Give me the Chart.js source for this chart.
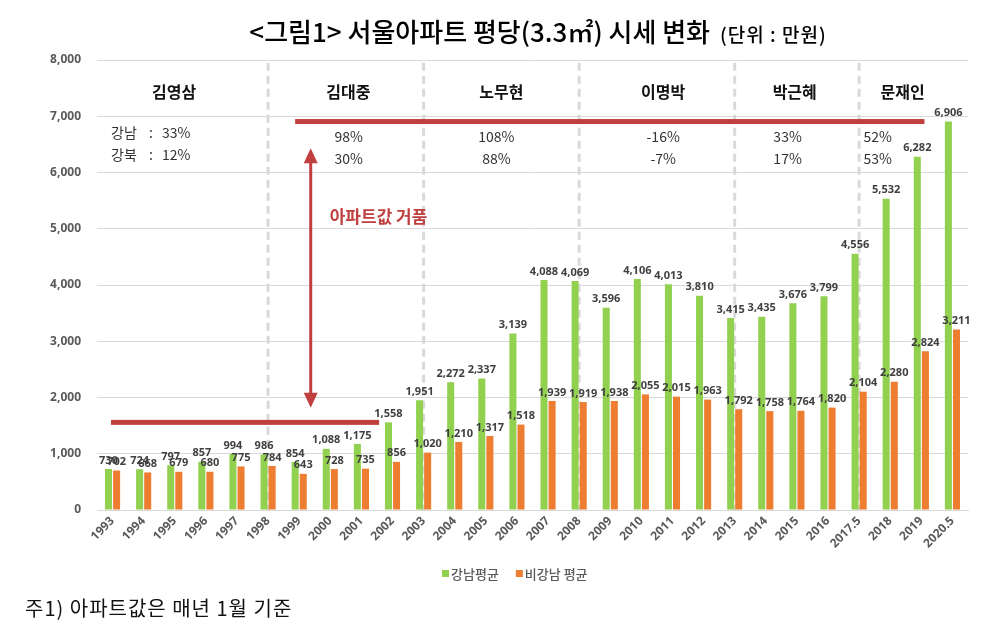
<!DOCTYPE html>
<html><head><meta charset="utf-8">
<script src="https://cdn.jsdelivr.net/npm/chart.js@4"></script>
<style>html,body{margin:0;padding:0;background:#fff;}#wrap{width:983px;height:639px;position:relative;}</style>
</head><body><div id="wrap"><canvas id="c" width="983" height="639"></canvas></div>
<script>
const years = ['1993','1994','1995','1996','1997','1998','1999','2000','2001','2002','2003','2004','2005','2006','2007','2008','2009','2010','2011','2012','2013','2014','2015','2016','2017.5','2018','2019','2020.5'];
const gangnam = [730,724,797,857,994,986,854,1088,1175,1558,1951,2272,2337,3139,4088,4069,3596,4106,4013,3810,3415,3435,3676,3799,4556,5532,6282,6906];
const nonGangnam = [702,668,679,680,775,784,643,728,735,856,1020,1210,1317,1518,1939,1919,1938,2055,2015,1963,1792,1758,1764,1820,2104,2280,2824,3211];
const yTicks = [0,1000,2000,3000,4000,5000,6000,7000,8000];
const presidents = ['김영삼','김대중','노무현','이명박','박근혜','문재인'];
const presidentPos = [1.98,7.58,12.5,17.7,21.93,25.4];
const eraBoundaries = ['1998','2003','2008','2013','2017.5'];
const rowGangnam = ['98%','108%','-16%','33%','52%'];
const rowGangbuk = ['30%','88%','-7%','17%','53%'];
const rowPos = [7.59,12.34,17.7,21.7,24.6];
const firstRow = ['강남','33%'];
const secondRow = ['강북','12%'];
const legendLabels = ['강남평균','비강남 평균'];
const titleMain = '<그림1> 서울아파트 평당(3.3㎡) 시세 변화';
const titleUnit = '(단위 : 만원)';
const footnote = '주1) 아파트값은 매년 1월 기준';
const bubbleLabel = '아파트값 거품';

const GREEN = '#92D050', ORANGE = '#ED7D31', RED = '#C0403F';
const KR = '"Noto Sans CJK KR", "Noto Sans", sans-serif';

const overlay = {
  id: 'overlay',
  beforeDraw(chart) {
    const ctx = chart.ctx;
    ctx.save(); ctx.fillStyle = '#fff'; ctx.fillRect(0,0,chart.width,chart.height); ctx.restore();
  },
  beforeDatasetsDraw(chart) {
    const {ctx, scales:{x,y}} = chart;
    ctx.save();
    ctx.strokeStyle = '#D9D9D9'; ctx.lineWidth = 3; ctx.setLineDash([8,5]);
    eraBoundaries.forEach(b => {
      const px = x.getPixelForValue(years.indexOf(b));
      ctx.beginPath(); ctx.moveTo(px, y.getPixelForValue(7950)); ctx.lineTo(px, y.getPixelForValue(0)); ctx.stroke();
    });
    ctx.restore();
  },
  afterDatasetsDraw(chart) {
    const {ctx, scales:{x,y}} = chart;
    ctx.save();
    ctx.font = 'bold 11px "Noto Sans", sans-serif';
    ctx.fillStyle = '#404040'; ctx.textAlign = 'center'; ctx.textBaseline = 'bottom';
    chart.data.datasets.forEach((ds, di) => {
      const meta = chart.getDatasetMeta(di);
      meta.data.forEach((bar, i) => {
        ctx.fillText(ds.data[i].toLocaleString('en-US'), bar.x, bar.y - 3);
      });
    });
    const topV = gangnam[gangnam.length-1], lowV = gangnam[years.indexOf('2002')];
    ctx.fillStyle = RED; ctx.strokeStyle = RED;
    const ty = y.getPixelForValue(topV), ly = y.getPixelForValue(lowV);
    ctx.fillRect(x.getPixelForValue(5.87), ty - 2.5, x.getPixelForValue(26.1) - x.getPixelForValue(5.87), 5);
    ctx.fillRect(x.getPixelForValue(-0.05), ly - 2.5, x.getPixelForValue(8.57) - x.getPixelForValue(-0.05), 5);
    const ax = x.getPixelForValue(6.37);
    const a1 = y.getPixelForValue(6430), a2 = y.getPixelForValue(1820);
    ctx.lineWidth = 3;
    ctx.beginPath(); ctx.moveTo(ax, a1 + 12); ctx.lineTo(ax, a2 - 12); ctx.stroke();
    ctx.beginPath(); ctx.moveTo(ax, a1); ctx.lineTo(ax - 7, a1 + 15); ctx.lineTo(ax + 7, a1 + 15); ctx.closePath(); ctx.fill();
    ctx.beginPath(); ctx.moveTo(ax, a2); ctx.lineTo(ax - 7, a2 - 15); ctx.lineTo(ax + 7, a2 - 15); ctx.closePath(); ctx.fill();
    ctx.font = 'bold 17px ' + KR; ctx.textAlign = 'left'; ctx.textBaseline = 'middle';
    ctx.fillText(bubbleLabel, ax + 19, y.getPixelForValue(5209));
    ctx.fillStyle = '#111'; ctx.textAlign = 'center';
    ctx.font = 'bold 16px ' + KR;
    presidents.forEach((p, i) => ctx.fillText(p, x.getPixelForValue(presidentPos[i]), y.getPixelForValue(7431)));
    ctx.font = '14px ' + KR; ctx.fillStyle = '#333';
    rowGangnam.forEach((t, i) => ctx.fillText(t, x.getPixelForValue(rowPos[i]), y.getPixelForValue(6631)));
    rowGangbuk.forEach((t, i) => ctx.fillText(t, x.getPixelForValue(rowPos[i]), y.getPixelForValue(6240)));
    ctx.textAlign = 'left';
    const lx = x.getPixelForValue(-0.05);
    [[firstRow, 6702],[secondRow, 6311]].forEach(([r, v]) => {
      const yy = y.getPixelForValue(v);
      ctx.fillText(r[0], lx, yy); ctx.fillText(':', lx + 38, yy); ctx.fillText(r[1], lx + 51, yy);
    });
    ctx.restore();
  },
  afterDraw(chart) {
    const ctx = chart.ctx;
    ctx.save();
    ctx.fillStyle = '#000'; ctx.textBaseline = 'alphabetic';
    const f1 = '500 26px ' + KR, f2 = '500 19px ' + KR;
    ctx.font = f1; const w1 = ctx.measureText(titleMain).width;
    ctx.font = f2; ctx.letterSpacing = '1px'; const w2 = ctx.measureText(titleUnit).width;
    ctx.letterSpacing = '0px';
    const tx = 538 - (w1 + 10 + w2) / 2;
    ctx.font = f1; ctx.fillText(titleMain, tx, 42);
    ctx.font = f2; ctx.letterSpacing = '1px'; ctx.fillText(titleUnit, tx + w1 + 10, 42);
    ctx.letterSpacing = '0px';
    ctx.font = '500 13px ' + KR; ctx.textBaseline = 'middle';
    let lx = 442; const ly = 574;
    [[GREEN, legendLabels[0]],[ORANGE, legendLabels[1]]].forEach(([c, t]) => {
      ctx.fillStyle = c; ctx.fillRect(lx, ly - 4, 7, 7);
      ctx.fillStyle = '#595959'; ctx.fillText(t, lx + 9, ly);
      lx += 9 + ctx.measureText(t).width + 17;
    });
    ctx.font = '20px ' + KR; ctx.fillStyle = '#111'; ctx.letterSpacing = '1px';
    ctx.fillText(footnote, 25, 608);
    ctx.restore();
  }
};

new Chart(document.getElementById('c'), {
  type: 'bar',
  data: {
    labels: years,
    datasets: [
      {label: legendLabels[0], data: gangnam, backgroundColor: GREEN, categoryPercentage: 0.52, barPercentage: 0.87},
      {label: legendLabels[1], data: nonGangnam, backgroundColor: ORANGE, categoryPercentage: 0.52, barPercentage: 0.87}
    ]
  },
  options: {
    responsive: false, animation: false, devicePixelRatio: 1,
    layout: {padding: {left: 0, right: 15, top: 60, bottom: 79}},
    plugins: {legend: {display: false}, title: {display: false}, tooltip: {enabled: false}},
    scales: {
      x: {
        grid: {display: false, drawTicks: false},
        border: {color: '#D9D9D9', width: 1},
        ticks: {minRotation: 45, maxRotation: 45, color: '#595959', font: {family: '"Noto Sans", sans-serif', size: 12, weight: 'bold'}, padding: 4},
        afterFit(s) { s.height = 50; }
      },
      y: {
        min: 0, max: 8000,
        afterBuildTicks(s) { s.ticks = yTicks.map(v => ({value: v})); },
        grid: {color: '#D9D9D9', drawTicks: false},
        border: {display: false},
        ticks: {color: '#595959', font: {family: '"Noto Sans", sans-serif', size: 12, weight: 'bold'}, padding: 16,
          callback: v => v.toLocaleString('en-US')},
        afterFit(s) { s.width = 97; }
      }
    }
  },
  plugins: [overlay]
});
</script></body></html>
